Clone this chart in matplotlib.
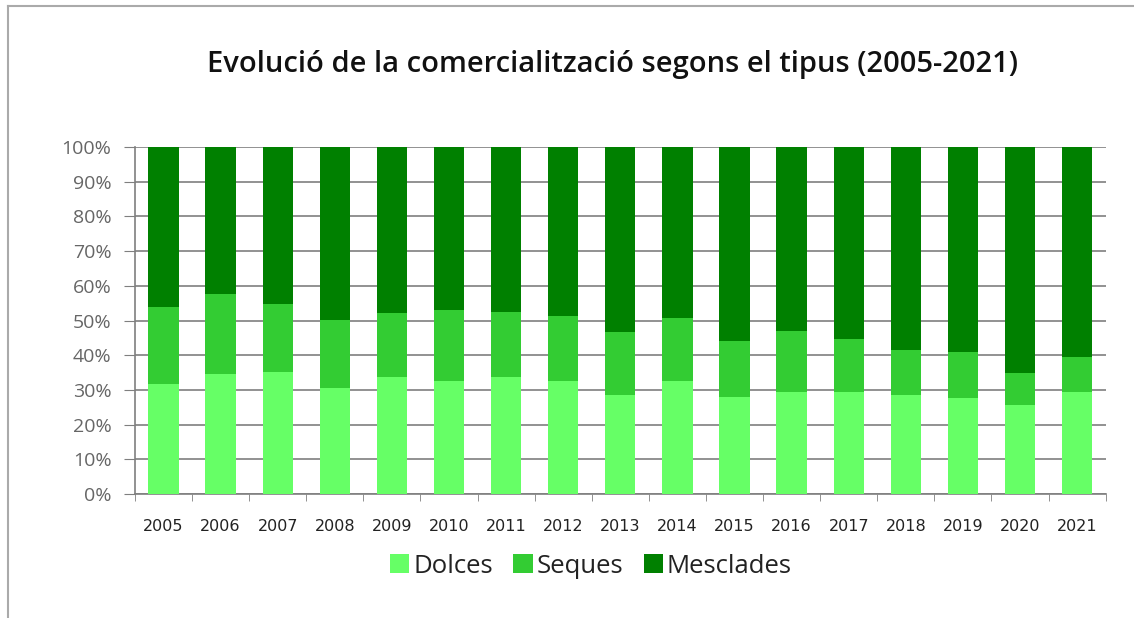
import numpy as np
import matplotlib.pyplot as plt
from matplotlib.lines import Line2D
from matplotlib.ticker import FixedLocator, PercentFormatter

years = ['2005', '2006', '2007', '2008', '2009', '2010', '2011', '2012', '2013',
         '2014', '2015', '2016', '2017', '2018', '2019', '2020', '2021']
# percentage shares (cumulative reading of the stacked bars)
dolces = [31.7, 34.6, 35.1, 30.5, 33.7, 32.7, 33.7, 32.7, 28.6,
          32.7, 28.1, 29.4, 29.4, 28.6, 27.6, 25.8, 29.4]
dolces_seques = [54.0, 57.6, 54.9, 50.1, 52.1, 52.9, 52.6, 51.2, 46.6,
                 50.6, 44.2, 47.0, 44.7, 41.4, 41.0, 35.0, 39.6]
seques = [b - a for a, b in zip(dolces, dolces_seques)]
mesclades = [100 - b for b in dolces_seques]
series_names = ['Dolces', 'Seques', 'Mesclades']
colors = ['#66ff66', '#33cc33', '#008000']

fig = plt.figure(figsize=(11.34, 6.18), dpi=100)
ax = fig.add_axes([0.119, 0.2006, 0.856, 0.5614])

x = np.arange(len(years))
w = 0.53
ax.bar(x, dolces, w, color=colors[0], label=series_names[0], zorder=3)
ax.bar(x, seques, w, bottom=dolces, color=colors[1], label=series_names[1], zorder=3)
ax.bar(x, mesclades, w, bottom=dolces_seques, color=colors[2], label=series_names[2], zorder=3)

ax.set_xlim(-0.5, len(years) - 0.5)
ax.set_ylim(0, 100)
ax.set_yticks(np.arange(0, 101, 10))
ax.yaxis.set_major_formatter(PercentFormatter(decimals=0))
ax.grid(axis='y', color='#7f7f7f', linewidth=1.2, zorder=0)

ax.set_xticks(x)
ax.set_xticklabels(years, fontsize=11.5, color='#222222', family='DejaVu Sans')
ax.xaxis.set_minor_locator(FixedLocator(np.arange(-0.5, len(years), 1)))
ax.tick_params(axis='x', which='major', length=0, pad=18)
ax.tick_params(axis='x', which='minor', length=5, color='#7f7f7f')
ax.tick_params(axis='y', length=8, color='#7f7f7f', labelcolor='#666666',
               labelsize=14, pad=9)
for lab in ax.get_yticklabels():
    lab.set_family('Open Sans')

for s in ['top', 'right']:
    ax.spines[s].set_visible(False)
for s in ['left', 'bottom']:
    ax.spines[s].set_color('#7f7f7f')
    ax.spines[s].set_linewidth(1.2)

fig.text(0.54, 0.895, 'Evolució de la comercialització segons el tipus (2005-2021)',
         ha='center', va='center', fontsize=21, fontweight='semibold',
         family='Open Sans', color='#111111')

leg = fig.legend(loc='center', bbox_to_anchor=(0.521, 0.084), ncol=3,
                 frameon=False, handlelength=0.75, handleheight=0.75,
                 handletextpad=0.15, columnspacing=0.8,
                 prop={'family': 'Open Sans', 'size': 18.5})
for t in leg.get_texts():
    t.set_color('#222222')

# outer frame (top and left edge visible in the screenshot)
fig.add_artist(Line2D([0.007, 1.0], [0.99, 0.99], transform=fig.transFigure,
                      color='#aaaaaa', linewidth=1.5))
fig.add_artist(Line2D([0.007, 0.007], [0.0, 0.99], transform=fig.transFigure,
                      color='#aaaaaa', linewidth=1.5))

fig.savefig('out.png', dpi=100)
